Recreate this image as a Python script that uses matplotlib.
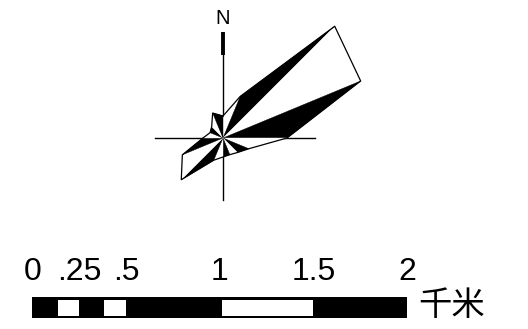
import numpy as np
import matplotlib
matplotlib.use('Agg')
import matplotlib.pyplot as plt

# rose: length of each of the 16 direction spokes (deg from north, clockwise)
directions = np.arange(0, 360, 22.5)
lengths = [22, 45, 158, 149, 64, 28, 20.5, 18, 19, 24, 59, 44, 20, 14, 16, 27]

# scale bar (km)
scale_ticks = [0, 0.25, 0.5, 1, 1.5, 2]
scale_labels = ['0', '.25', '.5', '1', '1.5', '2']
white_parts = [(0.125, 0.25), (0.375, 0.5), (1.0, 1.5)]
unit = '千米'

W, H = 528, 329
fig = plt.figure(figsize=(W / 100, H / 100), dpi=100, facecolor='white')

# compass rose on a polar axes, 1 data unit = 1 px
cx, cy, R = 223, 138, 170
ax = fig.add_axes([(cx - R) / W, (H - cy - R) / H, 2 * R / W, 2 * R / H],
                  projection='polar')
ax.set_theta_zero_location('N')
ax.set_theta_direction(-1)
ax.set_rlim(0, R)
ax.axis('off')

th = np.deg2rad(directions)
# cross lines (behind the rose)
for ang, ln in [(90, 92), (270, 68), (0, 83), (180, 62)]:
    ax.plot([np.deg2rad(ang)] * 2, [0, ln], color='black', lw=1.0,
            zorder=1, clip_on=False)
ax.plot([0, 0], [83, 106], color='black', lw=2.8, solid_capstyle='butt',
        zorder=1, clip_on=False)
ax.text(0, 119, 'N', ha='center', va='center', fontsize=14.5,
        family=['Liberation Sans Narrow', 'Liberation Sans'], clip_on=False)

n = len(lengths)
for k in range(n):
    t0, t1 = th[k], th[(k + 1) % n]
    if k == n - 1:
        t1 = t1 + 2 * np.pi
    col = 'black' if k % 2 == 1 else 'white'
    ax.fill([0, t0, t1], [0, lengths[k], lengths[(k + 1) % n]],
            facecolor=col, edgecolor=col, lw=0.3, zorder=2, clip_on=False)
ax.plot(np.append(th, th[0] + 2 * np.pi), lengths + [lengths[0]],
        color='black', lw=0.9, zorder=3, clip_on=False)

# scale bar
sb = fig.add_axes([32.3 / W, (H - 318) / H, 375 / W, 21 / H])
sb.set_xlim(0, 2)
sb.set_ylim(0, 1)
sb.barh(0.5, 2, left=0, height=1, color='black')
for a, b in white_parts:
    sb.barh(0.48, b - a - 0.012, left=a + 0.01, height=0.74, color='white')
sb.set_xticks(scale_ticks, scale_labels)
sb.set_yticks([])
sb.xaxis.tick_top()
sb.tick_params(axis='x', length=0, pad=7, labelsize=23)
for lb in sb.get_xticklabels():
    lb.set_family('Liberation Sans')
for s in sb.spines.values():
    s.set_visible(False)

fig.text(418 / W, 1 - 306 / H, unit, ha='left', va='center', fontsize=24,
         family=['Noto Sans CJK SC', 'DejaVu Sans'], fontweight='light')

fig.savefig('out.png', dpi=100, facecolor='white')
